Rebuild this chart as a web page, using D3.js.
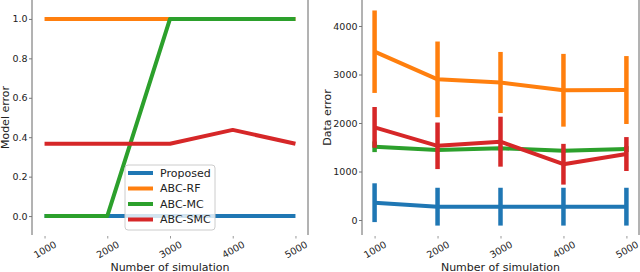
<!DOCTYPE html>
<html>
<head>
<meta charset="utf-8">
<script src="https://cdn.jsdelivr.net/npm/d3@7"></script>
<style>
  html, body { margin: 0; padding: 0; background: #fff; }
  svg { display: block; font-family: "DejaVu Sans", sans-serif; }
</style>
</head>
<body>
<svg width="640" height="272"></svg>
<script>
const simulations = [1000, 2000, 3000, 4000, 5000];
const methods = ["Proposed", "ABC-RF", "ABC-MC", "ABC-SMC"];
const colors = ["#1f77b4", "#ff7f0e", "#2ca02c", "#d62728"];

// model error (left panel)
const modelProposed = [0, 0, 0, 0, 0];
const modelRF = [1, 1, 1, 1, 1];
const modelMC = [0, 0, 1, 1, 1];
const modelSMC = [0.367, 0.367, 0.367, 0.437, 0.367];

// data error (right panel), mean and half-width of bar
const dataProposed = [357, 275, 275, 275, 275];
const dataProposedErr = [400, 390, 390, 390, 390];
const dataRF = [3470, 2900, 2835, 2675, 2680];
const dataRFErr = [850, 780, 630, 750, 700];
const dataMC = [1510, 1445, 1478, 1430, 1462];
const dataMCErr = [110, 40, 40, 40, 60];
const dataSMC = [1910, 1530, 1615, 1150, 1360];
const dataSMCErr = [420, 480, 515, 420, 350];

const modelTicks = [0, 0.2, 0.4, 0.6, 0.8, 1.0];
const dataTicks = [0, 1000, 2000, 3000, 4000];

const svg = d3.select("svg");
const plotTop = 0, plotBottom = 235;

function panel(x0, x1, yDomain, ticks, tickFmt, ylabel, ylabelX) {
    const x = d3.scaleLinear().domain([800, 5200]).range([x0, x1]);
    const y = d3.scaleLinear().domain(yDomain).range([plotBottom, plotTop]);
    const g = svg.append("g");

    // spines (left and right only, as in the picture)
    g.selectAll(".spine").data([x0, x1]).join("line")
        .attr("x1", d => d).attr("x2", d => d)
        .attr("y1", plotTop).attr("y2", plotBottom)
        .attr("stroke", "#666").attr("stroke-width", 1);

    const ya = g.append("g").attr("transform", `translate(${x0},0)`)
        .call(d3.axisLeft(y).tickValues(ticks).tickFormat(tickFmt).tickSize(3).tickPadding(1.5));
    ya.select(".domain").remove();
    ya.selectAll(".tick line").attr("stroke", "#777");
    ya.selectAll("text").attr("font-size", 9.5).attr("fill", "#222")
        .attr("font-family", "DejaVu Sans");

    const xa = g.append("g").attr("transform", `translate(0,${plotBottom})`)
        .call(d3.axisBottom(x).tickValues(simulations).tickFormat(d3.format("d")).tickSize(3.5));
    xa.select(".domain").remove();
    xa.selectAll(".tick line").attr("stroke", "#999").attr("y1", 1);
    xa.selectAll("text")
        .attr("font-size", 9.5).attr("fill", "#222").attr("font-family", "DejaVu Sans")
        .attr("y", 0).attr("dy", null)
        .attr("text-anchor", "middle").attr("dominant-baseline", "central")
        .attr("transform", "translate(0,14.5) rotate(-30)");

    g.append("text").text("Number of simulation")
        .attr("x", (x0 + x1) / 2).attr("y", 270.5)
        .attr("text-anchor", "middle").attr("font-size", 11).attr("fill", "#222");
    g.append("text").text(ylabel)
        .attr("transform", `translate(${ylabelX},${(plotTop + plotBottom) / 2}) rotate(-90)`)
        .attr("text-anchor", "middle").attr("font-size", 11).attr("fill", "#222");

    return { g, x, y };
}

// ---- left panel: model error
const L = panel(32, 308, [-0.096, 1.096], modelTicks, d3.format(".1f"), "Model error", 9);
const modelSeries = [modelProposed, modelRF, modelMC, modelSMC];
const lineL = d3.line().x((d, i) => L.x(simulations[i])).y(d => L.y(d));
L.g.selectAll(".series").data(modelSeries).join("path")
    .attr("d", lineL)
    .attr("fill", "none")
    .attr("stroke", (d, i) => colors[i])
    .attr("stroke-width", 4)
    .attr("stroke-linejoin", "round");

// legend
const leg = L.g.append("g").attr("transform", "translate(125,165)");
leg.append("rect").attr("width", 90).attr("height", 65).attr("rx", 3)
    .attr("fill", "#fff").attr("fill-opacity", 0.8)
    .attr("stroke", "#ccc").attr("stroke-width", 1);
const rows = leg.selectAll(".row").data(methods).join("g")
    .attr("transform", (d, i) => `translate(0,${8 + i * 15.5})`);
rows.append("line").attr("x1", 3).attr("x2", 28)
    .attr("stroke", (d, i) => colors[i]).attr("stroke-width", 4);
rows.append("text").text(d => d).attr("x", 35).attr("dy", "0.35em")
    .attr("font-size", 11).attr("fill", "#222");

// ---- right panel: data error
const R = panel(362, 639, [-309, 4536], dataTicks, d3.format("d"), "Data error", 331);
const dataSeries = [
    { mean: dataProposed, err: dataProposedErr },
    { mean: dataRF, err: dataRFErr },
    { mean: dataMC, err: dataMCErr },
    { mean: dataSMC, err: dataSMCErr }
];
const lineR = d3.line().x((d, i) => R.x(simulations[i])).y(d => R.y(d));
dataSeries.forEach((s, k) => {
    const sg = R.g.append("g");
    sg.append("path").attr("d", lineR(s.mean))
        .attr("fill", "none").attr("stroke", colors[k])
        .attr("stroke-width", 4).attr("stroke-linejoin", "round");
    sg.selectAll("line").data(s.mean).join("line")
        .attr("x1", (d, i) => R.x(simulations[i]))
        .attr("x2", (d, i) => R.x(simulations[i]))
        .attr("y1", (d, i) => R.y(d + s.err[i]))
        .attr("y2", (d, i) => R.y(d - s.err[i]))
        .attr("stroke", colors[k]).attr("stroke-width", 4.5);
});
</script>
</body>
</html>
